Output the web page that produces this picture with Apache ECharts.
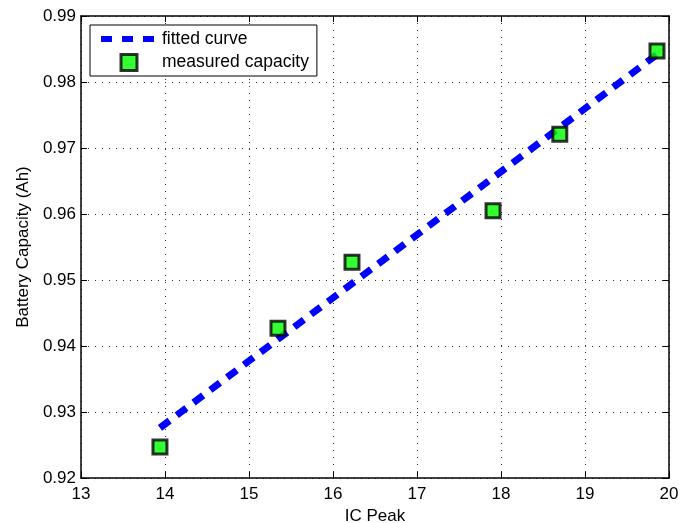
<!DOCTYPE html>
<html>
<head>
<meta charset="utf-8">
<script src="https://cdn.jsdelivr.net/npm/echarts@6/dist/echarts.min.js"></script>
<style>
  html, body { margin: 0; padding: 0; background: #fff; }
  #chart { width: 694px; height: 523px; }
</style>
</head>
<body>
<div id="chart"></div>
<script>
// measured points (IC peak, capacity)
const icPeak = [13.94, 15.345, 16.226, 17.905, 18.70, 19.857];
const capacity = [0.9247, 0.9427, 0.9527, 0.9605, 0.9721, 0.9847];
// fitted line end points
const fitX = [13.94, 19.86];
const fitY = [0.9276, 0.9842];

const font = "Liberation Sans, Arial, sans-serif";
const textStyle = { fontFamily: font, fontSize: 17, color: "#000" };

const chart = echarts.init(document.getElementById("chart"));

const gridLine = { show: true, lineStyle: { color: "#333", type: [1, 6], width: 1 } };
const box = { show: true, lineStyle: { color: "#000", width: 1.5 } };
const tick = { show: true, inside: true, length: 6, lineStyle: { color: "#000" } };

const option = {
  animation: false,
  textStyle,
  grid: { left: 81, right: 25, top: 16, bottom: 45, containLabel: false, outerBoundsMode: "none" },
  legend: {
    orient: "vertical",
    left: 90,
    top: 25,
    padding: [5, 8, 4, 8],
    itemGap: 5,
    itemWidth: 56,
    itemHeight: 16,
    borderColor: "#000",
    borderWidth: 1,
    backgroundColor: "#fff",
    textStyle: { fontFamily: font, fontSize: 17.5, color: "#000" },
    data: [
      {
        name: "fitted curve",
        itemStyle: { opacity: 0 },
        lineStyle: { color: "#0000ff", width: 6, type: [11, 10] }
      },
      {
        name: "measured capacity",
        icon: "path://M0,0h10v10h-10z",
        itemStyle: { color: "#00ff00", borderColor: "#000", borderWidth: 3 }
      }
    ]
  },
  xAxis: [
    {
      type: "value", min: 13, max: 20, interval: 1,
      name: "IC Peak", nameLocation: "middle", nameGap: 27,
      nameTextStyle: { fontFamily: font, fontSize: 17 },
      axisLine: box, axisTick: tick,
      axisLabel: { fontFamily: font, fontSize: 17, color: "#000", margin: 8 },
      splitLine: gridLine
    },
    {
      type: "value", min: 13, max: 20, interval: 1, position: "top",
      axisLine: box, axisTick: tick, axisLabel: { show: false }, splitLine: { show: false }
    }
  ],
  yAxis: [
    {
      type: "value", min: 0.92, max: 0.99, interval: 0.01,
      name: "Battery Capacity (Ah)", nameLocation: "middle", nameGap: 48,
      nameTextStyle: { fontFamily: font, fontSize: 17 },
      axisLine: box, axisTick: tick,
      axisLabel: { fontFamily: font, fontSize: 17, color: "#000", margin: 5, formatter: v => v.toFixed(2) },
      splitLine: gridLine
    },
    {
      type: "value", min: 0.92, max: 0.99, interval: 0.01, position: "right",
      axisLine: box, axisTick: tick, axisLabel: { show: false }, splitLine: { show: false }
    }
  ],
  series: [
    {
      name: "fitted curve",
      type: "line",
      symbol: "none",
      itemStyle: { color: "#0000ff" },
      lineStyle: { color: "#0000ff", width: 7, type: [12, 9] },
      data: fitX.map((x, i) => [x, fitY[i]]),
      z: 2
    },
    {
      name: "measured capacity",
      type: "scatter",
      symbol: "rect",
      symbolSize: 14,
      itemStyle: { color: "#00ff00", borderColor: "#000", borderWidth: 3 },
      data: icPeak.map((x, i) => [x, capacity[i]]),
      z: 3
    }
  ]
};

chart.setOption(option);
</script>
</body>
</html>
